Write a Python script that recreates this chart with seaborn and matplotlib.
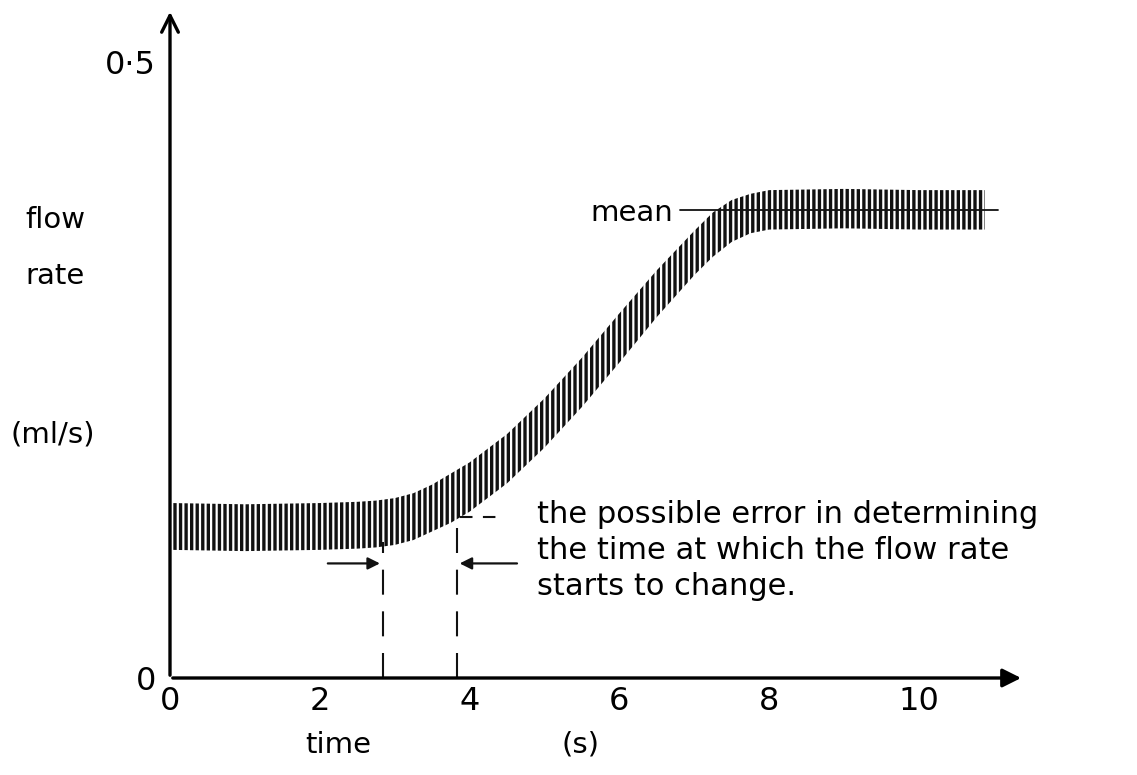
import matplotlib
matplotlib.use("Agg")
import matplotlib.pyplot as plt
import seaborn as sns
import numpy as np
import pandas as pd

# ---- data ----
time_s = [0.03, 1.0, 2.0, 2.5, 2.75, 3.0, 3.25, 3.5, 3.75, 4.0, 4.5, 5.0, 5.5, 6.0, 6.5, 7.0, 7.25, 7.5, 7.75, 8.0, 9.0, 10.0, 10.88]
mean_flow = [0.123, 0.122, 0.123, 0.124, 0.125, 0.127, 0.131, 0.138, 0.146, 0.155, 0.178, 0.207, 0.240, 0.276, 0.312, 0.345, 0.360, 0.371, 0.377, 0.380, 0.381, 0.380, 0.380]
half_spread = [0.019, 0.019, 0.019, 0.019, 0.019, 0.019, 0.019, 0.019, 0.020, 0.020, 0.020, 0.020, 0.020, 0.020, 0.019, 0.018, 0.018, 0.017, 0.016, 0.016, 0.016, 0.016, 0.016]

mean_level_t = [6.81, 11.05]
mean_level = [0.380, 0.380]
base_mean_t = [3.87, 4.38]
base_mean = [0.131, 0.131]

error_t = [2.84, 3.83]
error_top = [0.110, 0.130]
arrow_y = 0.093
arrow_from = [2.07, 4.67]

x_ticks = list(range(0, 12))
x_tick_labels = ["0", "", "2", "", "4", "", "6", "", "8", "", "10", ""]
y_ticks = [0.0, 0.5]
y_tick_labels = ["0", "0·5"]

note = "the possible error in determining\nthe time at which the flow rate\nstarts to change."

sns.set_theme(style="white")
plt.rcParams["font.family"] = ["DejaVu Sans"]
plt.rcParams["hatch.linewidth"] = 2.4
plt.rcParams["text.color"] = "black"

W, H = 1137, 775
fig = plt.figure(figsize=(W / 100, H / 100), dpi=100)
fig.patch.set_facecolor("white")
px_per_t = 74.9
px_per_v = 1232.0
x0, y0 = 170, 678
xmax, ymax = 11.5, 0.545
ax = fig.add_axes([x0 / W, (H - y0) / H, xmax * px_per_t / W, ymax * px_per_v / H])
ax.set_xlim(0, xmax)
ax.set_ylim(0, ymax)
ax.set_facecolor("white")

INK = "#111111"
df = pd.DataFrame({"t": time_s, "m": mean_flow, "h": half_spread})
lo = df["m"] - df["h"]
hi = df["m"] + df["h"]
ax.fill_between(df["t"], lo, hi, facecolor="none", edgecolor=INK,
                hatch="|||", linewidth=0)

# mean line at the top plateau
sns.lineplot(x=mean_level_t, y=mean_level, ax=ax, color=INK, lw=1.3)
ax.text(5.61, 0.380, "mean", fontsize=21, ha="left", va="center_baseline", color="black")
# base mean dashes
ax.plot(base_mean_t, base_mean, color=INK, lw=1.5, ls=(0, (6, 5)))

# error marks
for t, top in zip(error_t, error_top):
    ax.plot([t, t], [0, top], color=INK, lw=1.5, ls=(0, (12, 8)))
for a, b in zip(arrow_from, error_t):
    ax.annotate("", xy=(b, arrow_y), xytext=(a, arrow_y),
                arrowprops=dict(arrowstyle="-|>", color=INK, lw=1.6, mutation_scale=18))

ax.text(4.9, 0.1445, note, fontsize=22, ha="left", va="top",
        linespacing=1.3, color="black")

# axes with arrows
for s in ax.spines.values():
    s.set_visible(False)
ax.annotate("", xy=(0, 0.543), xytext=(0, 0), annotation_clip=False,
            arrowprops=dict(arrowstyle="->", color="black", lw=2.4, mutation_scale=30))
ax.annotate("", xy=(11.4, 0), xytext=(0, 0), annotation_clip=False,
            arrowprops=dict(arrowstyle="-|>", color="black", lw=2.4, mutation_scale=28))

ax.set_xticks(x_ticks)
ax.set_xticklabels(x_tick_labels, fontsize=23)
ax.set_yticks(y_ticks)
ax.set_yticklabels(y_tick_labels, fontsize=23)
ax.tick_params(axis="x", direction="inout", length=12, width=1.5, pad=0, colors="black")
ax.tick_params(axis="y", direction="out", length=8, width=1.5, pad=2, colors="black")
ax.grid(False)

fig.text(25 / W, 1 - 220 / H, "flow", fontsize=21, ha="left", va="center")
fig.text(25 / W, 1 - 276 / H, "rate", fontsize=21, ha="left", va="center")
fig.text(10 / W, 1 - 434 / H, "(ml/s)", fontsize=21, ha="left", va="center")
fig.text(338 / W, 1 - 745 / H, "time", fontsize=21, ha="center", va="center")
fig.text(580 / W, 1 - 745 / H, "(s)", fontsize=21, ha="center", va="center")

fig.savefig("out.png", dpi=100, facecolor="white")
